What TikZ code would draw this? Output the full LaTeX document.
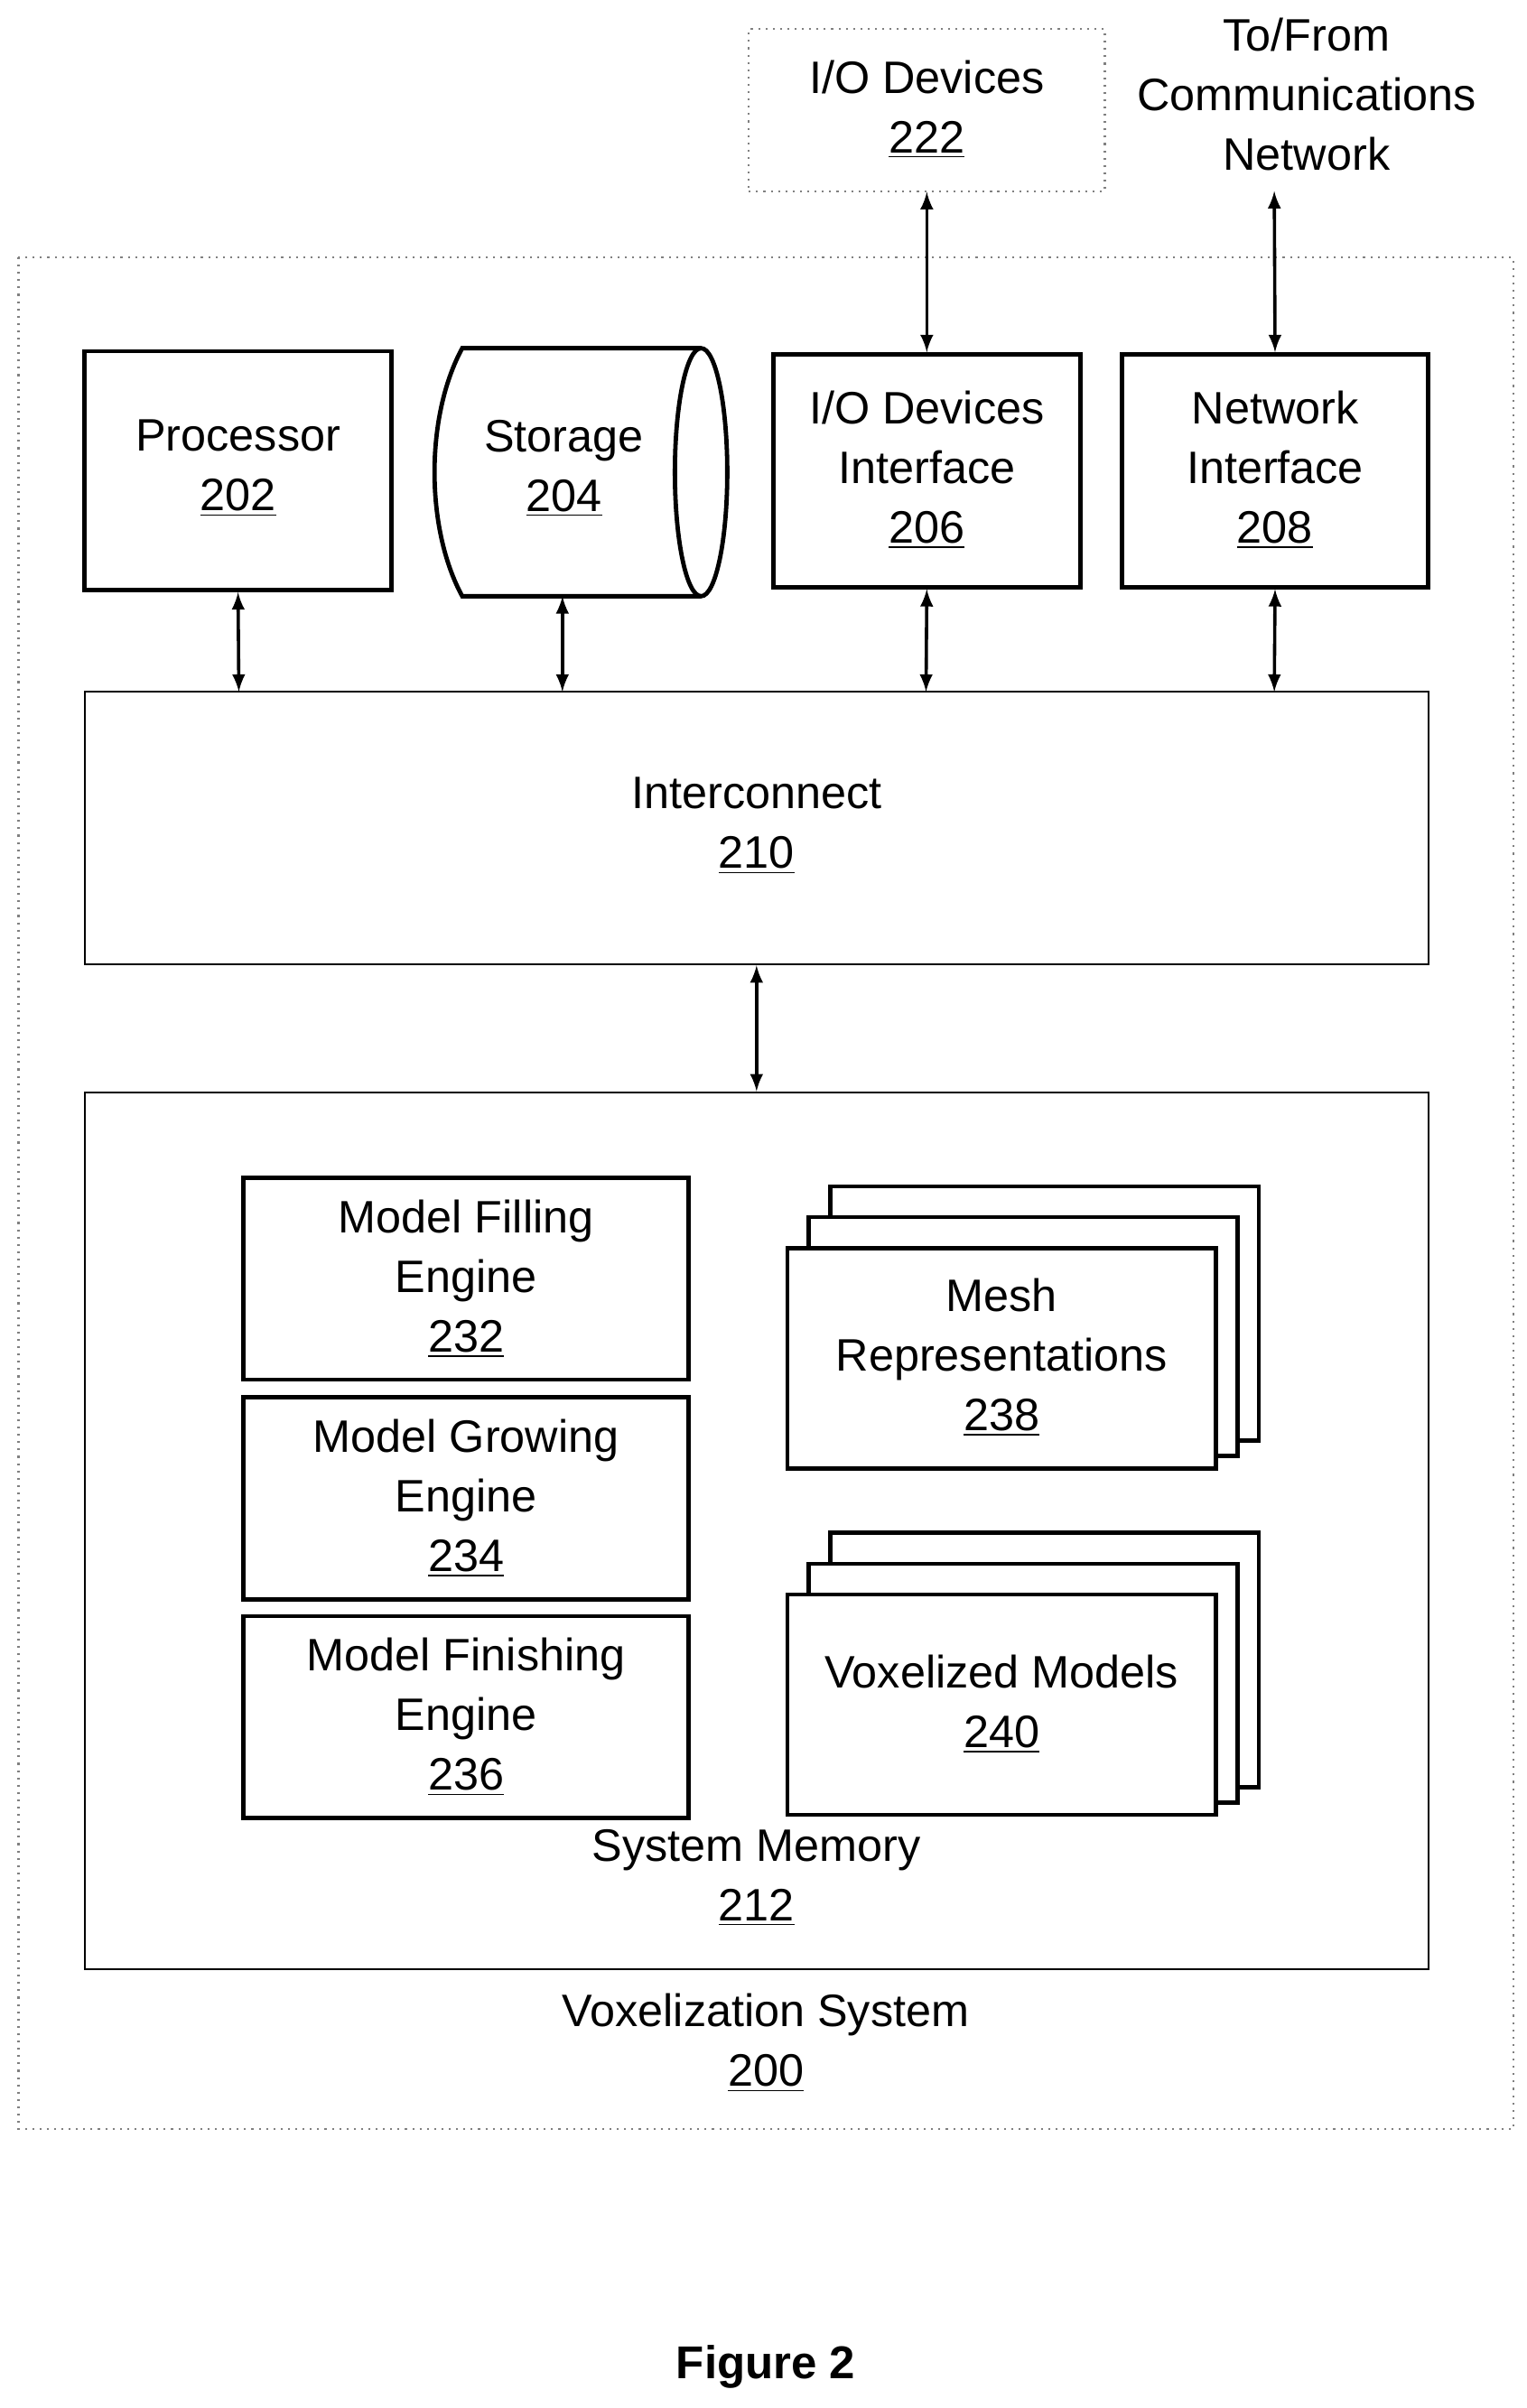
\documentclass[tikz,border=0pt]{standalone}
\usepackage{fontspec}
\setmainfont{Liberation Sans}
\begin{document}
\begin{tikzpicture}[x=0.02cm,y=-0.02cm,
  every node/.style={font=\fontsize{16.8}{22}\selectfont,align=center},
  thick box/.style={draw,line width=1.6pt},
  thin box/.style={draw,line width=0.7pt},
  dotbox/.style={draw,gray,dotted,line width=0.7pt},
  arr/.style={<->,>=latex,line width=1.2pt}]
\useasboundingbox (0,0) rectangle (991,1563);
% outer
\draw[dotbox] (12,167) rectangle (982,1382);
\node[dotbox,minimum width=231*0.02cm,minimum height=105*0.02cm] (io) at (601.5,71.5) {};
\node at (601.5,71) {I/O Devices\\\underline{222}};
\node (net) at (848,61) {To/From\\Communications\\Network};
\coordinate (netb) at (827,124);
% top boxes
\node[thick box,minimum width=199*0.02cm,minimum height=155*0.02cm] (p) at (154.5,305.5) {};
\node at (154.5,304) {Processor\\\underline{202}};
\draw[line width=1.6pt] (455,226) -- (300,226) .. controls (276,270) and (276,343) .. (300,387) -- (455,387);
\draw[line width=1.6pt] (455,306.5) ellipse [x radius=0.34cm, y radius=1.61cm];
\coordinate (s) at (365,387);
\node at (366,304) {Storage\\\underline{204}};
\node[thick box,minimum width=199*0.02cm,minimum height=151*0.02cm] (iod) at (601.5,305.5) {};
\node at (601.5,305) {I/O Devices\\Interface\\\underline{206}};
\node[thick box,minimum width=199*0.02cm,minimum height=151*0.02cm] (ni) at (827.5,305.5) {};
\node at (827.5,305) {Network\\Interface\\\underline{208}};
\node[thin box,minimum width=872*0.02cm,minimum height=177*0.02cm] (ic) at (491,537.5) {};
\node at (491,536) {Interconnect\\\underline{210}};
\draw[arr] (p.south) -- (155,449);
\draw[arr] (s) -- (365,449);
\draw[arr] (iod.south) -- (601,449);
\draw[arr] (ni.south) -- (827,449);
\draw[arr] (io.south) -- (iod.north);
\draw[arr] (netb) -- (ni.north);
% memory
\node[thin box,minimum width=872*0.02cm,minimum height=569*0.02cm] (mem) at (491,993.5) {};
\draw[arr] (ic.south) -- (mem.north);
\node at (491,1219) {System Memory\\\underline{212}};
\node at (497,1326) {Voxelization System\\\underline{200}};
\foreach \n/\y/\t in {a/830/{Model Filling\\Engine\\\underline{232}},b/972.5/{Model Growing\\Engine\\\underline{234}},c/1114.5/{Model Finishing\\Engine\\\underline{236}}}{
  \node[thick box,minimum width=289*0.02cm,minimum height=131*0.02cm] (\n) at (302.5,\y) {};
  \node at (302.5,\y) {\t};
}
\foreach \yy/\t in {810/{Mesh\\Representations\\\underline{238}},1035/{Voxelized Models\\\underline{240}}}{
  \draw[line width=1.6pt,fill=white] (539,\yy-40) rectangle (817,\yy+125);
  \draw[line width=1.6pt,fill=white] (525,\yy-20) rectangle (803,\yy+135);
  \draw[line width=1.6pt,fill=white] (511,\yy) rectangle (789,\yy+143);
  \node at (650,\yy+71) {\t};
}
\node[font=\fontsize{17}{20}\selectfont\bfseries] at (497,1536) {Figure 2};
\end{tikzpicture}
\end{document}
